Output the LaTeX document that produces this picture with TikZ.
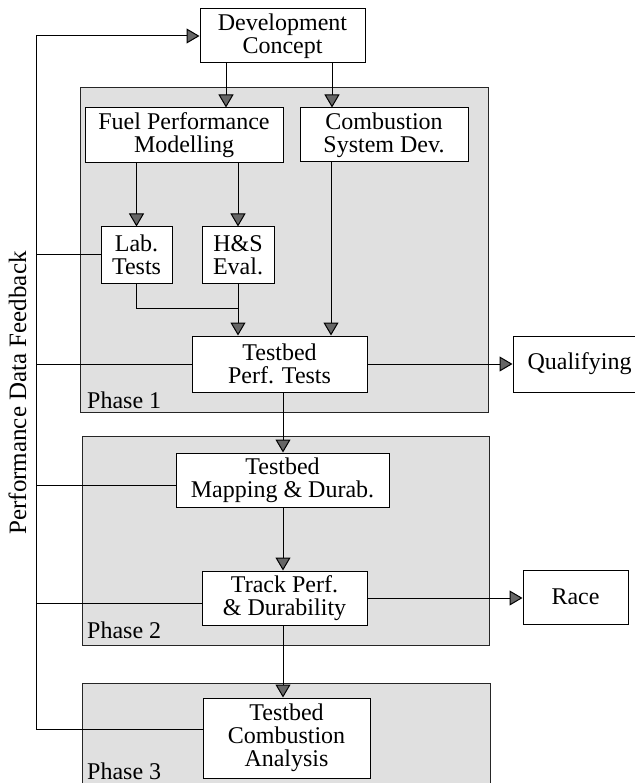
\documentclass[tikz,border=0pt]{standalone}
\usepackage{fontspec}
\setmainfont{Liberation Serif}
\usetikzlibrary{arrows.meta,calc}
\begin{document}
\begin{tikzpicture}[x=1pt,y=-1pt,
  box/.style={draw=black, fill=white, line width=1pt, inner sep=0pt, align=center,
    font=\fontsize{24}{23}\selectfont},
  phasebox/.style={draw=black!85, fill=black!12, line width=0.8pt, inner sep=0pt},
  conn/.style={line width=1pt},
  arr/.style={line width=1pt, -{Triangle[length=13pt,width=15pt,fill=black!60]}},
  plabel/.style={anchor=base west, inner sep=0pt, font=\fontsize{24}{24}\selectfont}
]
\useasboundingbox (0,0) rectangle (634,783);
\fill[white] (0,0) rectangle (634,783);

% phase areas
\node[phasebox, minimum width=408pt, minimum height=325pt] (p1) at (284,249.5) {};
\node[phasebox, minimum width=407pt, minimum height=209pt] (p2) at (285.5,540.5) {};
\node[phasebox, minimum width=408pt, minimum height=117pt] (p3) at (286,741.5) {};
\node[plabel] (p1l) at (87,408) {Phase 1};
\node[plabel] (p2l) at (87,638) {Phase 2};
\node[plabel] (p3l) at (87,779) {Phase 3};

% boxes
\node[box, minimum width=165pt, minimum height=54pt] (dev) at (282.5,36) {Development\\Concept};
\node[box, minimum width=198pt, minimum height=55pt] (fuel) at (184,135.5) {Fuel Performance\\Modelling};
\node[box, minimum width=168pt, minimum height=54pt] (comb) at (384,135) {Combustion\\System Dev.};
\node[box, minimum width=71pt, minimum height=56pt] (lab) at (136.5,255) {Lab.\\Tests};
\node[box, minimum width=72pt, minimum height=56pt] (hs) at (238,255) {H\&S\\Eval.};
\node[box, minimum width=175pt, minimum height=56pt] (perf) at (279.5,364) {Testbed\\Perf. Tests};
\node[box, minimum width=133pt, minimum height=56pt] (qual) at (579.5,364) {Qualifying};
\node[box, minimum width=213pt, minimum height=54pt] (map) at (282.5,480) {Testbed\\Mapping \& Durab.};
\node[box, minimum width=165pt, minimum height=54pt] (track) at (284.5,598) {Track Perf.\\\& Durability};
\node[box, minimum width=105pt, minimum height=54pt] (race) at (575.5,597) {Race};
\node[box, minimum width=167pt, minimum height=80pt] (ana) at (286.5,738) {Testbed\\Combustion\\Analysis};

% feedback label
\node[rotate=90, anchor=base, inner sep=0pt, font=\fontsize{25}{25}\selectfont] (fbl) at (26,393) {Performance Data Feedback};

% helper coordinates
\coordinate (fbtop) at (36,36);
\coordinate (fbbot) at (36,729);
\coordinate (dx1) at (226,0);
\coordinate (dx2) at (332,0);
\coordinate (cx) at (331,0);
\coordinate (vx) at (283,0);
\coordinate (j) at (238,308);

% feedback loop
\draw[arr] (ana.west |- fbbot) -- (fbbot) -- (fbtop) -- (dev.west);
\draw[conn] (fbtop |- lab.west) -- (lab.west);
\draw[conn] (fbtop |- perf.west) -- (perf.west);
\draw[conn] ($(fbtop |- map.west)+(0,5)$) -- ($(map.west)+(0,5)$);
\draw[conn] ($(fbtop |- track.west)+(0,5)$) -- ($(track.west)+(0,5)$);

% main flow
\draw[arr] (dev.south -| dx1) -- (fuel.north -| dx1);
\draw[arr] (dev.south -| dx2) -- (comb.north -| dx2);
\draw[arr] (fuel.south -| lab.north) -- (lab.north);
\draw[arr] (fuel.south -| hs.north) -- (hs.north);
\draw[conn] (lab.south) |- (j);
\draw[arr] (hs.south) -- (perf.north -| hs.south);
\draw[arr] (comb.south -| cx) -- (perf.north -| cx);
\draw[arr] (perf.east) -- (qual.west);
\draw[arr] (perf.south -| vx) -- (map.north -| vx);
\draw[arr] (map.south -| vx) -- (track.north -| vx);
\draw[arr] (track.east) -- (track.east -| race.west);
\draw[arr] (track.south -| vx) -- (ana.north -| vx);
\end{tikzpicture}
\end{document}
